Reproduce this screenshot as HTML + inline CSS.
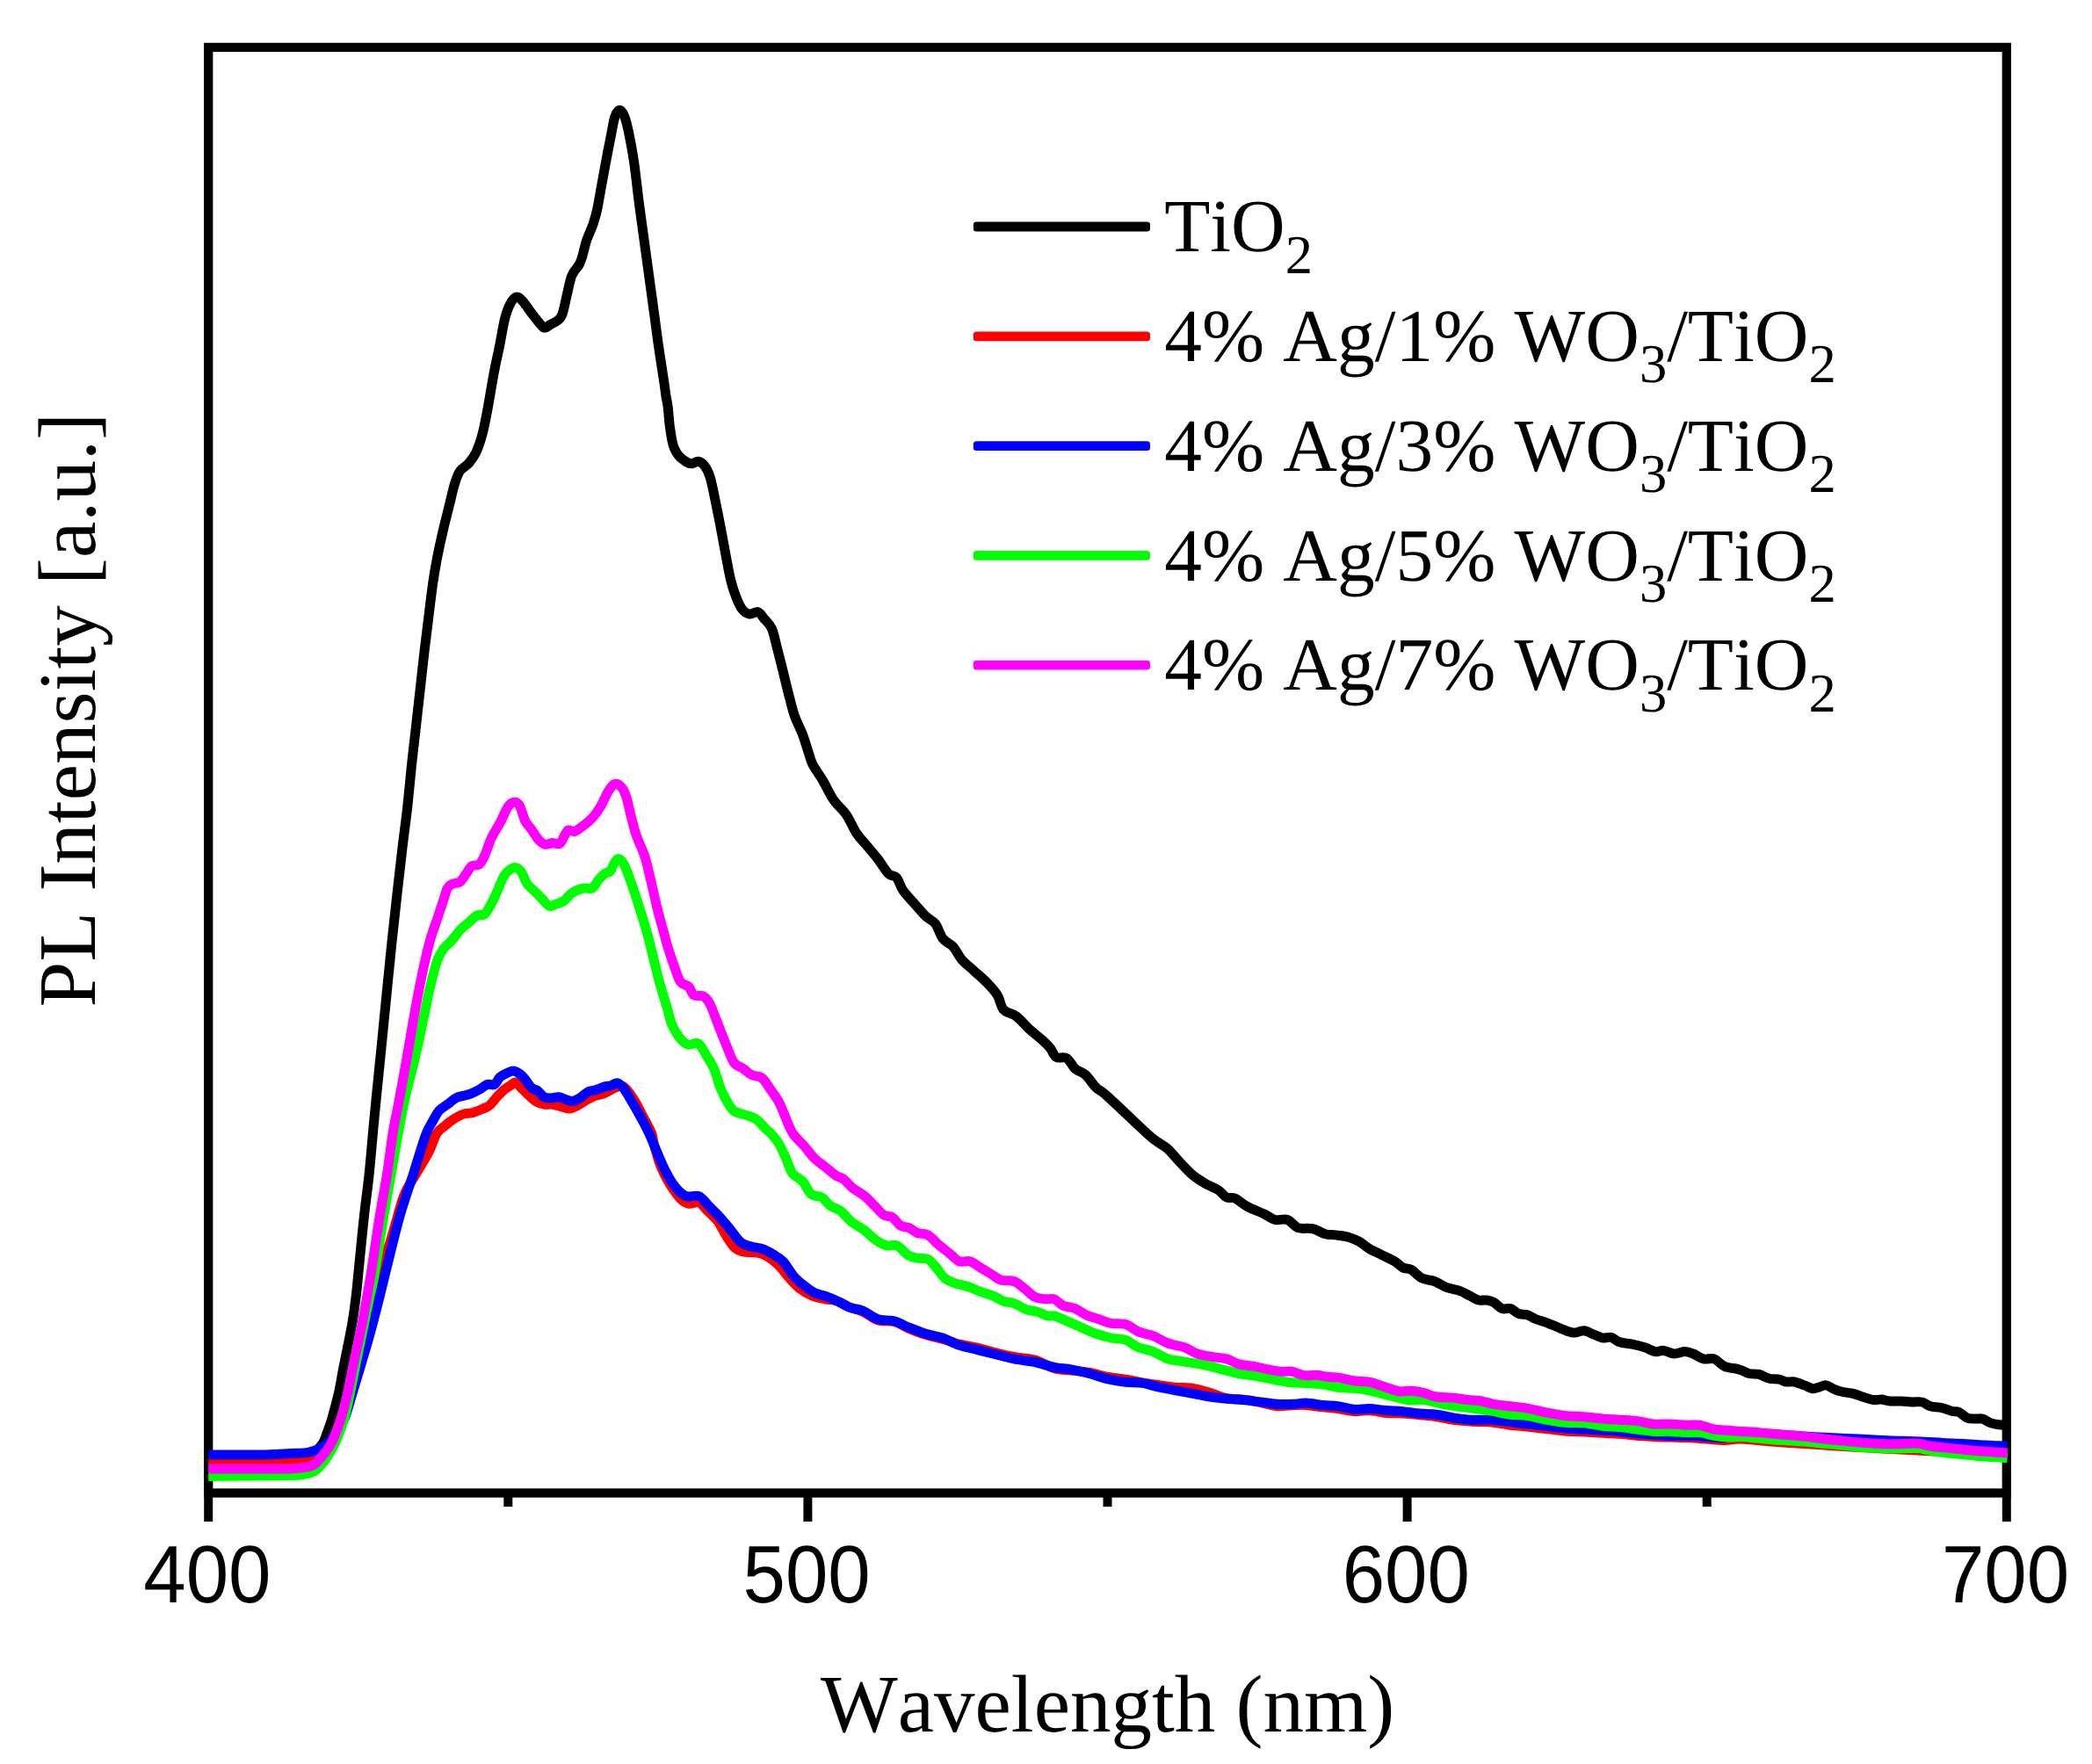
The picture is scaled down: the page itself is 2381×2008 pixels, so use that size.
<!DOCTYPE html>
<html><head><meta charset="utf-8"><title>PL spectra</title>
<style>
html,body{margin:0;padding:0;background:#fff;}
svg{display:block}
text{font-kerning:none;font-feature-settings:"kern" 0,"liga" 0;text-rendering:geometricPrecision}
.ax{font-family:"Liberation Serif",serif;font-size:93px;fill:#000}
.lg{font-family:"Liberation Serif",serif;font-size:85.4px;fill:#000}
.lg .sub{font-size:62.5px}
.tk{font-family:"Liberation Sans",sans-serif;font-size:87px;fill:#000}
</style></head>
<body>
<svg width="2381" height="2008" viewBox="0 0 2381 2008">
<rect width="2381" height="2008" fill="#fff"/>
<g fill="none" stroke="#000" stroke-width="10.3">
<rect x="237.2" y="53.9" width="2046.6" height="1645.6"/>
<g stroke-width="10"><line x1="237.2" y1="1699.5" x2="237.2" y2="1732.1"/><line x1="919.4" y1="1699.5" x2="919.4" y2="1732.1"/><line x1="1601.6" y1="1699.5" x2="1601.6" y2="1732.1"/><line x1="2283.8" y1="1699.5" x2="2283.8" y2="1732.1"/><line x1="578.3" y1="1699.5" x2="578.3" y2="1715.1"/><line x1="1260.5" y1="1699.5" x2="1260.5" y2="1715.1"/><line x1="1942.7" y1="1699.5" x2="1942.7" y2="1715.1"/></g>
</g>
<g fill="none" stroke-width="11" stroke-linejoin="round" stroke-linecap="butt">
<path d="M237.2 1659.3C252.7 1659.4 311.8 1660.3 330.0 1660.2C348.2 1660.1 341.8 1659.9 346.3 1658.8C350.9 1657.8 354.3 1656.0 357.2 1654.1C360.2 1652.2 362.1 1649.5 364.0 1647.3C365.9 1645.0 367.1 1643.9 368.8 1640.5C370.4 1637.1 372.2 1631.4 373.8 1626.9C375.4 1622.3 376.4 1620.1 378.3 1613.3C380.2 1606.5 383.3 1595.1 385.4 1586.1C387.4 1577.0 388.8 1567.9 390.5 1558.8C392.3 1549.8 394.2 1540.7 396.0 1531.6C397.8 1522.6 399.7 1513.5 401.2 1504.4C402.7 1495.4 403.9 1486.3 405.0 1477.2C406.1 1468.1 406.3 1465.3 407.8 1450.0C409.4 1434.7 412.2 1404.3 414.3 1385.6C416.3 1366.9 418.3 1353.7 420.0 1337.8C421.7 1321.9 423.1 1304.2 424.4 1289.9C425.7 1275.7 426.4 1268.6 428.0 1252.4C429.6 1236.2 432.0 1212.6 434.0 1192.7C436.0 1172.7 438.0 1152.8 439.9 1132.9C441.9 1113.0 443.9 1092.3 445.9 1073.2C447.9 1054.0 449.9 1036.1 451.9 1018.2C453.9 1000.3 455.9 982.3 457.9 965.6C459.9 948.9 462.1 933.7 463.8 917.8C465.6 901.9 467.0 885.0 468.6 869.9C470.2 854.9 471.8 841.8 473.4 827.6C475.0 813.4 476.6 798.9 478.2 784.6C479.8 770.3 481.4 755.1 483.0 741.6C484.6 728.0 486.2 716.1 487.7 703.3C489.3 690.6 490.9 676.3 492.5 665.1C494.1 654.0 495.3 646.8 497.3 636.4C499.3 626.1 502.1 613.3 504.5 603.0C506.9 592.6 509.5 583.0 511.6 574.3C513.8 565.5 515.6 556.8 517.6 550.4C519.6 544.0 521.0 539.8 523.6 536.0C526.2 532.3 530.2 531.1 533.2 527.7C536.1 524.3 538.9 521.1 541.5 515.7C544.1 510.3 546.6 503.0 548.7 495.4C550.8 487.8 551.9 482.0 554.2 469.9C556.5 457.8 560.1 435.5 562.5 422.8C564.9 410.2 566.5 404.1 568.5 394.2C570.5 384.2 572.5 371.1 574.5 363.1C576.5 355.1 578.3 350.5 580.4 346.4C582.6 342.2 585.2 338.6 587.6 338.0C590.0 337.4 591.8 339.6 594.8 342.8C597.8 346.0 602.2 352.7 605.5 357.1C608.9 361.5 612.7 366.4 615.1 369.1C617.5 371.7 617.9 373.1 619.9 373.1C621.9 373.1 624.5 370.5 627.1 369.1C629.6 367.6 633.2 366.3 635.4 364.3C637.6 362.3 638.6 361.7 640.2 357.1C641.8 352.5 643.4 343.6 645.0 336.8C646.6 330.0 648.4 321.1 649.8 316.5C651.2 311.9 651.8 311.9 653.3 309.3C654.9 306.7 657.7 303.9 659.3 301.0C660.9 298.0 661.5 296.0 662.9 291.4C664.3 286.8 665.7 279.4 667.7 273.5C669.7 267.5 672.9 261.3 674.9 255.5C676.8 249.8 678.0 246.0 679.6 238.8C681.2 231.6 682.8 221.3 684.4 212.5C686.0 203.8 687.4 195.8 689.2 186.2C691.0 176.7 693.4 164.1 695.2 155.2C697.0 146.2 698.2 137.4 700.0 132.5C701.7 127.5 703.7 125.3 705.4 125.3C707.2 125.3 709.0 128.3 710.7 132.5C712.4 136.6 713.7 141.8 715.5 150.4C717.3 158.9 719.5 170.3 721.5 183.8C723.5 197.4 725.2 214.9 727.4 231.6C729.6 248.4 732.2 266.7 734.6 284.2C737.0 301.8 739.4 319.3 741.8 336.8C744.2 354.3 746.6 372.7 748.9 389.4C751.3 406.1 754.6 427.1 756.1 437.2C757.6 447.3 757.2 445.9 757.8 450.0C758.5 454.1 759.2 456.0 760.0 462.0C760.8 467.9 761.4 478.5 762.4 485.9C763.4 493.2 764.4 500.8 766.0 506.2C767.6 511.5 769.4 514.8 772.0 518.1C774.5 521.4 778.9 524.4 781.5 526.0C784.1 527.6 785.3 527.8 787.5 527.7C789.7 527.6 792.3 524.9 794.7 525.3C797.0 525.7 799.6 527.3 801.8 530.1C804.0 532.9 806.0 536.6 807.8 542.0C809.6 547.4 810.6 553.0 812.6 562.3C814.6 571.7 817.4 585.8 819.8 598.2C822.1 610.5 824.9 626.1 826.9 636.4C828.9 646.8 829.9 653.2 831.7 660.3C833.5 667.5 835.5 673.9 837.7 679.4C839.9 685.0 842.3 690.5 844.8 693.8C847.4 697.1 850.2 698.6 853.2 699.0C856.2 699.5 860.0 695.7 862.8 696.7C865.6 697.6 867.4 701.4 869.9 704.5C872.5 707.6 875.9 709.9 878.3 715.3C880.7 720.7 882.1 728.4 884.3 736.8C886.5 745.2 889.1 755.9 891.5 765.5C893.8 775.0 896.4 785.8 898.6 794.2C900.8 802.5 902.2 808.9 904.6 815.7C907.0 822.5 910.4 828.0 913.0 834.8C915.6 841.6 918.1 850.4 920.1 856.3C922.1 862.2 922.1 864.5 924.9 870.0C927.7 875.5 932.9 882.3 936.9 889.1C940.8 895.9 944.4 904.3 948.8 910.6C953.2 917.0 958.8 921.0 963.2 927.4C967.5 933.7 971.1 942.9 975.1 948.9C979.1 954.8 983.1 958.4 987.1 963.2C991.0 968.0 995.0 972.4 999.0 977.6C1003.0 982.7 1007.4 990.7 1011.0 994.3C1014.5 997.9 1017.7 995.9 1020.5 999.1C1023.3 1002.2 1024.1 1008.2 1027.7 1013.4C1031.3 1018.6 1037.6 1025.2 1042.0 1030.1C1046.4 1035.1 1050.2 1039.7 1054.0 1043.3C1057.8 1046.9 1061.5 1047.5 1064.7 1051.6C1067.9 1055.8 1069.7 1064.0 1073.1 1068.4C1076.5 1072.8 1081.5 1074.0 1085.0 1077.9C1088.6 1081.9 1090.6 1087.7 1094.6 1092.3C1098.6 1096.9 1104.2 1101.0 1108.9 1105.4C1113.7 1109.8 1118.9 1114.0 1123.3 1118.6C1127.7 1123.1 1132.1 1127.7 1135.2 1132.9C1138.4 1138.1 1138.8 1145.7 1142.4 1149.6C1146.0 1153.6 1152.0 1153.2 1156.7 1156.8C1161.5 1160.4 1166.3 1166.8 1171.1 1171.1C1175.9 1175.5 1181.4 1179.5 1185.4 1183.1C1189.4 1186.7 1192.2 1189.3 1195.0 1192.7C1197.8 1196.0 1199.0 1201.4 1202.2 1203.4C1205.3 1205.4 1210.5 1202.4 1214.1 1204.6C1217.7 1206.8 1220.1 1213.4 1223.7 1216.6C1227.3 1219.7 1231.6 1220.1 1235.6 1223.7C1239.6 1227.3 1243.5 1234.1 1247.6 1238.1C1251.6 1242.1 1250.4 1239.0 1260.0 1247.6C1269.6 1256.3 1295.6 1281.3 1305.2 1290.0C1314.7 1298.7 1313.1 1296.6 1317.1 1299.6C1321.1 1302.5 1324.7 1303.9 1329.1 1307.9C1333.4 1311.9 1338.6 1318.5 1343.4 1323.5C1348.2 1328.4 1353.0 1333.8 1357.7 1337.8C1362.5 1341.8 1367.3 1344.6 1372.1 1347.4C1376.9 1350.1 1382.4 1351.9 1386.4 1354.5C1390.4 1357.1 1392.8 1361.3 1396.0 1362.9C1399.2 1364.5 1401.6 1362.3 1405.5 1364.1C1409.5 1365.9 1414.3 1370.7 1419.9 1373.7C1425.5 1376.6 1433.8 1379.5 1439.0 1382.0C1444.2 1384.5 1446.6 1387.4 1451.0 1388.5C1455.3 1389.5 1460.9 1387.0 1465.3 1388.5C1469.7 1390.0 1472.5 1395.8 1477.2 1397.6C1482.0 1399.3 1488.8 1397.6 1494.0 1398.7C1499.2 1399.9 1503.9 1403.5 1508.3 1404.7C1512.7 1405.9 1515.9 1405.3 1520.3 1405.9C1524.6 1406.5 1530.2 1407.1 1534.6 1408.3C1539.0 1409.5 1542.6 1410.9 1546.6 1413.1C1550.5 1415.3 1554.1 1418.9 1558.5 1421.5C1562.9 1424.0 1568.1 1426.2 1572.8 1428.6C1577.6 1431.0 1583.2 1433.4 1587.2 1435.8C1591.2 1438.2 1593.6 1441.4 1596.7 1443.0C1599.9 1444.6 1602.7 1443.4 1606.3 1445.4C1609.9 1447.3 1613.9 1452.7 1618.3 1454.9C1622.6 1457.1 1627.8 1456.7 1632.6 1458.5C1637.4 1460.3 1642.2 1463.9 1646.9 1465.7C1651.7 1467.5 1656.9 1467.7 1661.3 1469.3C1665.7 1470.8 1669.6 1473.4 1673.2 1475.2C1676.8 1477.0 1679.6 1479.2 1682.8 1480.0C1686.0 1480.8 1689.5 1479.6 1692.4 1480.0C1695.2 1480.4 1697.1 1480.8 1700.0 1482.4C1702.9 1484.0 1706.4 1488.4 1709.6 1489.6C1712.7 1490.8 1715.9 1488.6 1719.1 1489.6C1722.3 1490.6 1725.5 1494.3 1728.7 1495.5C1731.9 1496.7 1735.1 1495.7 1738.2 1496.7C1741.4 1497.7 1743.8 1499.9 1747.8 1501.5C1751.8 1503.1 1757.4 1504.5 1762.1 1506.3C1766.9 1508.1 1771.7 1510.5 1776.5 1512.3C1781.3 1514.1 1786.4 1516.7 1790.8 1517.1C1795.2 1517.5 1798.8 1514.3 1802.8 1514.7C1806.8 1515.1 1811.1 1518.1 1814.7 1519.4C1818.3 1520.8 1821.1 1522.6 1824.3 1523.0C1827.5 1523.5 1830.7 1521.5 1833.8 1522.3C1837.0 1523.1 1839.4 1526.5 1843.4 1527.8C1847.4 1529.1 1853.0 1529.2 1857.7 1530.2C1862.5 1531.2 1867.7 1532.4 1872.1 1533.8C1876.5 1535.2 1880.4 1538.0 1884.0 1538.6C1887.6 1539.2 1890.0 1537.0 1893.6 1537.4C1897.2 1537.8 1901.6 1540.8 1905.5 1541.0C1909.5 1541.2 1913.9 1538.6 1917.5 1538.6C1921.1 1538.6 1923.5 1539.6 1927.1 1541.0C1930.6 1542.4 1935.0 1545.9 1939.0 1546.9C1943.0 1547.9 1947.0 1545.5 1951.0 1546.9C1954.9 1548.3 1958.1 1553.3 1962.9 1555.3C1967.7 1557.3 1975.0 1557.5 1979.6 1558.9C1984.2 1560.2 1986.8 1562.6 1990.6 1563.5C1994.3 1564.4 1998.2 1563.5 2002.0 1564.4C2005.9 1565.4 2009.7 1568.3 2013.5 1569.2C2017.3 1570.2 2021.8 1569.5 2025.0 1570.2C2028.2 1570.8 2029.8 1572.6 2032.6 1573.0C2035.5 1573.5 2038.7 1572.4 2042.2 1573.0C2045.7 1573.7 2050.2 1575.6 2053.7 1576.9C2057.2 1578.1 2060.3 1580.4 2063.2 1580.7C2066.1 1581.0 2068.3 1579.4 2070.9 1578.8C2073.4 1578.1 2075.6 1576.4 2078.5 1576.9C2081.4 1577.3 2084.9 1580.4 2088.1 1581.6C2091.3 1582.9 2094.1 1583.7 2097.6 1584.5C2101.1 1585.3 2105.3 1585.5 2109.1 1586.4C2112.9 1587.4 2116.8 1589.1 2120.6 1590.2C2124.4 1591.4 2128.5 1593.0 2132.1 1593.5C2135.6 1594.0 2138.4 1592.9 2141.6 1593.1C2144.8 1593.4 2147.3 1594.7 2151.2 1595.0C2155.0 1595.3 2160.4 1594.9 2164.6 1595.0C2168.7 1595.2 2172.2 1595.8 2176.0 1596.0C2179.9 1596.1 2184.0 1595.2 2187.5 1596.0C2191.0 1596.8 2193.2 1599.6 2197.1 1600.8C2200.9 1601.9 2206.3 1601.7 2210.4 1602.7C2214.6 1603.6 2218.7 1605.7 2221.9 1606.5C2225.1 1607.3 2226.7 1606.2 2229.6 1607.5C2232.4 1608.7 2235.9 1612.9 2239.1 1614.1C2242.3 1615.4 2245.8 1614.9 2248.7 1615.1C2251.6 1615.3 2253.5 1614.3 2256.3 1615.1C2259.2 1615.9 2262.7 1618.8 2265.9 1619.9C2269.1 1621.0 2272.3 1621.3 2275.5 1621.8C2278.6 1622.3 2283.1 1622.6 2284.6 1622.8" stroke="#000"/>
<path d="M237.2 1662.4C248.0 1662.4 286.2 1662.4 301.7 1662.4C317.2 1662.4 322.6 1662.6 330.0 1662.4C337.4 1662.2 341.8 1662.0 346.3 1661.3C350.9 1660.5 353.7 1659.8 357.2 1657.9C360.7 1656.0 364.1 1652.9 367.4 1650.0C370.7 1647.1 373.1 1646.6 376.9 1640.5C380.8 1634.4 387.0 1622.3 390.5 1613.3C394.1 1604.2 395.6 1595.1 398.0 1586.1C400.4 1577.0 402.6 1567.9 404.8 1558.8C407.1 1549.8 409.3 1540.7 411.6 1531.6C414.0 1522.6 416.8 1513.5 419.1 1504.4C421.4 1495.4 423.1 1486.3 425.2 1477.2C427.3 1468.1 428.7 1460.5 431.8 1450.0C434.9 1439.5 440.5 1425.0 443.9 1414.3C447.3 1403.6 449.5 1394.8 452.3 1385.6C455.0 1376.4 456.8 1367.7 460.4 1359.3C464.0 1350.9 469.4 1343.4 474.0 1335.4C478.6 1327.4 484.0 1319.1 487.9 1311.5C491.8 1303.9 494.1 1295.0 497.3 1289.9C500.5 1284.9 503.7 1283.8 506.9 1281.1C510.1 1278.4 512.8 1276.1 516.4 1273.9C520.0 1271.7 524.8 1269.1 528.4 1267.9C532.0 1266.7 534.3 1267.7 537.9 1266.7C541.5 1265.8 546.7 1263.4 549.9 1262.0C553.1 1260.6 554.3 1260.8 557.1 1258.4C559.8 1256.0 563.8 1250.6 566.6 1247.6C569.4 1244.6 571.4 1242.5 573.8 1240.5C576.2 1238.5 578.8 1237.1 581.0 1235.7C583.1 1234.3 584.9 1231.7 586.9 1232.1C588.9 1232.5 590.7 1235.9 592.9 1238.1C595.1 1240.3 597.3 1242.6 600.1 1245.2C602.9 1247.8 606.4 1251.6 609.6 1253.6C612.8 1255.6 616.0 1256.6 619.2 1257.2C622.4 1257.8 625.6 1256.8 628.8 1257.2C631.9 1257.6 635.1 1258.8 638.3 1259.6C641.5 1260.4 644.7 1262.2 647.9 1262.0C651.1 1261.8 654.3 1260.0 657.4 1258.4C660.6 1256.8 663.8 1254.2 667.0 1252.4C670.2 1250.6 673.4 1248.8 676.6 1247.6C679.7 1246.4 683.3 1246.2 686.1 1245.2C688.9 1244.2 690.9 1242.8 693.3 1241.7C695.7 1240.5 698.3 1239.1 700.5 1238.1C702.6 1237.1 704.4 1235.5 706.4 1235.7C708.4 1235.9 709.8 1236.5 712.4 1239.3C715.0 1242.1 718.8 1247.2 722.0 1252.4C725.2 1257.6 728.3 1264.1 731.5 1270.3C734.8 1276.6 739.5 1284.7 741.6 1290.0C743.7 1295.3 742.6 1296.0 744.2 1302.0C745.8 1307.9 748.4 1318.3 751.4 1325.9C754.4 1333.4 758.4 1341.0 762.1 1347.4C765.9 1353.7 770.5 1360.3 774.1 1364.1C777.7 1367.9 780.1 1369.3 783.7 1370.1C787.2 1370.9 792.0 1367.5 795.6 1368.9C799.2 1370.3 801.6 1374.8 805.2 1378.4C808.7 1382.0 813.5 1385.6 817.1 1390.4C820.7 1395.2 823.5 1402.1 826.7 1407.1C829.9 1412.1 833.0 1417.3 836.2 1420.3C839.4 1423.2 841.4 1424.0 845.8 1425.0C850.2 1426.0 857.7 1425.2 862.5 1426.2C867.3 1427.2 870.5 1428.6 874.5 1431.0C878.5 1433.4 882.4 1436.6 886.4 1440.6C890.4 1444.6 894.4 1450.5 898.4 1454.9C902.4 1459.3 905.9 1463.5 910.3 1466.9C914.7 1470.3 919.9 1473.2 924.7 1475.2C929.4 1477.2 934.2 1477.8 939.0 1478.8C943.8 1479.8 948.6 1479.6 953.3 1481.2C958.1 1482.8 962.9 1486.4 967.7 1488.4C972.5 1490.4 976.8 1490.8 982.0 1493.2C987.2 1495.5 992.8 1500.8 998.8 1502.7C1004.7 1504.6 1011.9 1502.8 1017.9 1504.4C1023.9 1506.0 1028.6 1509.8 1034.6 1512.3C1040.6 1514.8 1047.4 1517.5 1053.7 1519.4C1060.1 1521.4 1066.5 1522.4 1072.8 1524.2C1079.2 1526.0 1085.6 1528.6 1092.0 1530.2C1098.3 1531.8 1104.7 1532.3 1111.1 1533.8C1117.5 1535.3 1123.0 1537.3 1130.2 1539.0C1137.4 1540.8 1146.1 1543.0 1154.1 1544.5C1162.1 1546.1 1170.4 1545.9 1178.0 1548.1C1185.7 1550.3 1193.1 1555.7 1200.0 1557.7C1206.9 1559.7 1212.3 1559.3 1219.1 1560.1C1225.9 1560.9 1233.9 1561.3 1240.6 1562.5C1247.4 1563.7 1253.0 1566.0 1259.8 1567.2C1266.5 1568.5 1274.5 1569.0 1281.3 1570.1C1288.0 1571.2 1294.0 1572.8 1300.4 1573.9C1306.8 1575.1 1313.1 1575.9 1319.5 1576.8C1325.9 1577.7 1332.2 1578.6 1338.6 1579.2C1345.0 1579.8 1351.4 1579.4 1357.7 1580.4C1364.1 1581.4 1370.5 1583.3 1376.9 1585.2C1383.2 1587.0 1389.6 1590.3 1396.0 1591.6C1402.4 1592.9 1408.7 1592.3 1415.1 1593.1C1421.5 1593.9 1427.9 1595.1 1434.2 1596.4C1440.6 1597.7 1447.0 1600.2 1453.3 1600.7C1459.7 1601.2 1466.9 1599.7 1472.5 1599.5C1478.0 1599.3 1481.2 1599.1 1486.8 1599.5C1492.4 1599.9 1500.0 1601.2 1505.9 1601.9C1511.9 1602.6 1516.7 1602.8 1522.7 1603.6C1528.6 1604.4 1535.8 1606.4 1541.8 1606.7C1547.8 1607.0 1552.5 1605.2 1558.5 1605.5C1564.5 1605.8 1571.3 1607.8 1577.6 1608.4C1584.0 1609.0 1590.4 1608.7 1596.7 1609.1C1603.1 1609.5 1609.5 1610.1 1615.9 1610.7C1622.2 1611.3 1628.6 1611.7 1635.0 1612.7C1641.4 1613.6 1647.7 1615.4 1654.1 1616.2C1660.5 1617.1 1667.3 1617.5 1673.2 1617.9C1679.2 1618.3 1685.5 1618.4 1690.0 1618.6C1694.4 1618.9 1695.1 1618.8 1700.0 1619.3C1704.9 1619.9 1712.7 1621.4 1719.1 1622.2C1725.5 1623.0 1731.5 1623.4 1738.2 1624.1C1745.0 1624.8 1752.6 1625.7 1759.8 1626.5C1766.9 1627.3 1774.1 1628.4 1781.3 1628.9C1788.4 1629.5 1795.6 1629.5 1802.8 1629.9C1809.9 1630.3 1817.5 1630.9 1824.3 1631.3C1831.1 1631.7 1837.0 1631.8 1843.4 1632.3C1849.8 1632.7 1856.2 1633.7 1862.5 1634.2C1868.9 1634.7 1875.3 1635.0 1881.6 1635.4C1888.0 1635.7 1894.4 1635.9 1900.8 1636.1C1907.1 1636.3 1913.5 1636.3 1919.9 1636.6C1926.3 1636.8 1931.8 1637.3 1939.0 1637.8C1946.2 1638.2 1955.9 1639.4 1962.9 1639.4C1969.9 1639.5 1971.6 1637.7 1981.0 1638.0C1990.4 1638.4 2006.5 1640.3 2019.2 1641.3C2032.0 1642.3 2046.3 1643.1 2057.5 1643.8C2068.6 1644.5 2073.4 1644.9 2086.2 1645.7C2098.9 1646.5 2113.2 1647.5 2134.0 1648.6C2154.7 1649.7 2185.3 1651.1 2210.4 1652.4C2235.6 1653.7 2272.2 1655.6 2284.6 1656.2" stroke="#f00"/>
<path d="M237.2 1655.9C248.0 1655.9 286.2 1656.2 301.7 1655.9C317.2 1655.7 321.9 1654.9 330.0 1654.5C338.1 1654.1 344.7 1654.4 350.4 1653.4C356.1 1652.4 359.9 1650.8 364.0 1648.6C368.1 1646.5 371.5 1644.1 374.9 1640.5C378.3 1636.8 381.5 1631.4 384.4 1626.9C387.4 1622.3 389.8 1620.1 392.6 1613.3C395.4 1606.5 398.3 1595.1 401.0 1586.1C403.8 1577.0 406.5 1567.9 409.2 1558.8C411.9 1549.8 414.7 1540.7 417.3 1531.6C420.0 1522.6 422.4 1513.5 424.8 1504.4C427.2 1495.4 429.5 1486.3 431.8 1477.2C434.0 1468.1 434.6 1465.3 438.4 1450.0C442.3 1434.7 449.4 1404.3 454.7 1385.6C459.9 1366.9 466.2 1349.8 470.0 1337.8C473.7 1325.9 474.8 1321.9 477.4 1313.9C479.9 1305.9 482.7 1296.3 485.3 1290.0C487.8 1283.7 490.1 1280.6 492.5 1276.3C494.9 1272.0 496.9 1267.5 499.7 1264.4C502.5 1261.2 506.1 1259.6 509.3 1257.2C512.4 1254.8 516.0 1251.6 518.8 1250.0C521.6 1248.4 523.2 1248.4 526.0 1247.6C528.8 1246.8 532.4 1246.4 535.5 1245.2C538.7 1244.0 541.9 1242.3 545.1 1240.5C548.3 1238.7 551.7 1235.5 554.7 1234.5C557.7 1233.5 560.6 1235.9 563.0 1234.5C565.4 1233.1 566.6 1228.3 569.0 1226.1C571.4 1223.9 574.8 1222.5 577.4 1221.3C580.0 1220.1 582.2 1218.7 584.5 1218.9C586.9 1219.1 589.5 1220.9 591.7 1222.5C593.9 1224.1 595.5 1225.9 597.7 1228.5C599.9 1231.1 602.5 1235.9 604.9 1238.1C607.2 1240.3 609.6 1239.9 612.0 1241.7C614.4 1243.4 616.8 1247.4 619.2 1248.8C621.6 1250.2 623.6 1250.0 626.4 1250.0C629.2 1250.0 633.1 1248.6 635.9 1248.8C638.7 1249.0 640.5 1250.4 643.1 1251.2C645.7 1252.0 648.7 1253.8 651.5 1253.6C654.3 1253.4 656.8 1251.8 659.8 1250.0C662.8 1248.2 666.2 1244.4 669.4 1242.8C672.6 1241.3 675.8 1241.5 678.9 1240.5C682.1 1239.5 685.7 1237.7 688.5 1236.9C691.3 1236.1 693.3 1236.4 695.7 1235.7C698.1 1235.0 700.5 1232.2 702.8 1232.8C705.2 1233.4 707.2 1235.6 710.0 1239.3C712.8 1242.9 716.4 1249.4 719.6 1254.8C722.8 1260.2 725.9 1265.7 729.1 1271.5C732.3 1277.4 735.6 1283.3 738.7 1290.0C741.8 1296.7 744.7 1304.3 747.8 1311.5C750.9 1318.7 753.8 1326.2 757.4 1333.0C760.9 1339.8 765.3 1347.4 769.3 1352.1C773.3 1356.9 776.9 1360.1 781.3 1361.7C785.6 1363.3 791.2 1359.7 795.6 1361.7C800.0 1363.7 803.6 1369.7 807.6 1373.7C811.5 1377.6 815.5 1381.2 819.5 1385.6C823.5 1390.0 827.5 1395.2 831.5 1399.9C835.4 1404.7 839.4 1411.1 843.4 1414.3C847.4 1417.5 851.4 1417.9 855.4 1419.1C859.3 1420.3 863.3 1420.1 867.3 1421.5C871.3 1422.8 875.3 1425.0 879.3 1427.4C883.2 1429.8 887.2 1431.6 891.2 1435.8C895.2 1440.0 899.2 1447.9 903.2 1452.5C907.1 1457.1 911.1 1460.1 915.1 1463.3C919.1 1466.5 923.1 1469.7 927.1 1471.6C931.0 1473.6 934.6 1473.6 939.0 1475.2C943.4 1476.8 948.6 1479.0 953.3 1481.2C958.1 1483.4 962.9 1486.6 967.7 1488.4C972.5 1490.2 976.8 1489.8 982.0 1492.0C987.2 1494.2 992.8 1499.5 998.8 1501.5C1004.7 1503.5 1011.9 1502.3 1017.9 1503.9C1023.9 1505.5 1028.6 1508.7 1034.6 1511.1C1040.6 1513.5 1047.4 1516.3 1053.7 1518.3C1060.1 1520.2 1066.5 1520.8 1072.8 1523.0C1079.2 1525.2 1085.6 1529.2 1092.0 1531.4C1098.3 1533.6 1104.7 1534.6 1111.1 1536.2C1117.5 1537.8 1123.0 1539.2 1130.2 1541.0C1137.4 1542.7 1146.1 1545.3 1154.1 1546.9C1162.1 1548.5 1170.4 1548.9 1178.0 1550.5C1185.7 1552.1 1193.1 1555.1 1200.0 1556.5C1206.9 1557.9 1212.3 1557.7 1219.1 1558.9C1225.9 1560.1 1233.9 1561.9 1240.6 1563.7C1247.4 1565.5 1253.0 1568.0 1259.8 1569.6C1266.5 1571.2 1274.5 1572.4 1281.3 1573.2C1288.0 1574.0 1294.0 1573.4 1300.4 1574.4C1306.8 1575.4 1313.1 1577.8 1319.5 1579.2C1325.9 1580.6 1332.2 1581.6 1338.6 1582.8C1345.0 1584.0 1351.4 1585.2 1357.7 1586.4C1364.1 1587.6 1370.5 1589.0 1376.9 1590.0C1383.2 1590.9 1389.6 1591.7 1396.0 1592.3C1402.4 1592.9 1408.7 1592.9 1415.1 1593.5C1421.5 1594.1 1427.9 1595.1 1434.2 1595.9C1440.6 1596.7 1447.0 1597.9 1453.3 1598.3C1459.7 1598.7 1466.9 1598.5 1472.5 1598.3C1478.0 1598.1 1481.2 1596.9 1486.8 1597.1C1492.4 1597.3 1500.0 1598.9 1505.9 1599.5C1511.9 1600.1 1516.7 1599.9 1522.7 1600.7C1528.6 1601.5 1535.8 1603.8 1541.8 1604.3C1547.8 1604.8 1552.5 1603.4 1558.5 1603.6C1564.5 1603.8 1571.3 1605.0 1577.6 1605.5C1584.0 1606.0 1590.4 1606.1 1596.7 1606.7C1603.1 1607.3 1609.5 1608.5 1615.9 1609.1C1622.2 1609.7 1628.6 1609.5 1635.0 1610.3C1641.4 1611.1 1647.7 1612.9 1654.1 1613.9C1660.5 1614.8 1667.3 1615.8 1673.2 1616.2C1679.2 1616.6 1685.5 1616.2 1690.0 1616.2C1694.4 1616.2 1695.1 1615.8 1700.0 1616.2C1704.9 1616.6 1712.7 1617.8 1719.1 1618.6C1725.5 1619.4 1731.5 1620.2 1738.2 1621.0C1745.0 1621.8 1752.6 1622.6 1759.8 1623.4C1766.9 1624.2 1774.1 1625.2 1781.3 1625.8C1788.4 1626.4 1795.6 1626.6 1802.8 1627.0C1809.9 1627.4 1817.5 1627.8 1824.3 1628.2C1831.1 1628.6 1837.0 1628.8 1843.4 1629.4C1849.8 1630.0 1856.2 1631.2 1862.5 1631.8C1868.9 1632.4 1875.3 1632.6 1881.6 1633.0C1888.0 1633.4 1894.4 1634.0 1900.8 1634.2C1907.1 1634.4 1913.5 1634.0 1919.9 1634.2C1926.3 1634.4 1931.8 1635.0 1939.0 1635.4C1946.2 1635.8 1955.9 1637.4 1962.9 1636.6C1969.9 1635.7 1971.6 1631.0 1981.0 1630.4C1990.4 1629.8 2006.5 1632.1 2019.2 1632.9C2032.0 1633.7 2047.9 1634.6 2057.5 1635.2C2067.0 1635.8 2067.0 1635.9 2076.6 1636.3C2086.2 1636.8 2102.1 1637.4 2114.8 1638.0C2127.6 1638.7 2143.5 1639.5 2153.1 1640.0C2162.6 1640.4 2165.8 1640.3 2172.2 1640.5C2178.6 1640.8 2185.0 1641.0 2191.3 1641.3C2197.7 1641.6 2204.1 1642.1 2210.4 1642.4C2216.8 1642.8 2223.2 1642.9 2229.6 1643.2C2235.9 1643.5 2242.3 1644.0 2248.7 1644.4C2255.1 1644.7 2261.8 1645.2 2267.8 1645.5C2273.8 1645.8 2281.8 1646.1 2284.6 1646.3" stroke="#00f"/>
<path d="M237.2 1680.5C252.7 1680.4 312.3 1679.9 330.0 1679.5C347.7 1679.2 339.1 1679.3 343.6 1678.6C348.1 1677.8 353.4 1677.2 357.2 1675.2C361.1 1673.1 364.0 1669.4 366.7 1666.3C369.5 1663.3 370.9 1661.1 373.5 1656.8C376.1 1652.5 379.3 1647.7 382.4 1640.5C385.5 1633.2 389.5 1622.3 392.2 1613.3C394.8 1604.2 396.4 1595.1 398.3 1586.1C400.2 1577.0 401.9 1567.9 403.7 1558.8C405.6 1549.8 407.5 1540.7 409.3 1531.6C411.2 1522.6 413.0 1513.5 414.9 1504.4C416.8 1495.4 418.6 1486.3 420.5 1477.2C422.4 1468.1 423.5 1465.3 426.2 1450.0C428.9 1434.7 433.4 1404.3 436.5 1385.6C439.7 1366.9 442.1 1353.7 444.9 1337.8C447.7 1321.9 450.4 1305.0 453.2 1289.9C456.0 1274.9 458.2 1262.6 461.5 1247.6C464.9 1232.6 469.8 1215.4 473.4 1199.8C477.0 1184.3 480.2 1167.6 483.0 1154.4C485.8 1141.3 487.7 1130.9 490.1 1121.0C492.5 1111.0 494.9 1101.4 497.3 1094.7C499.7 1087.9 501.7 1084.3 504.5 1080.3C507.3 1076.3 510.8 1074.3 514.0 1070.8C517.2 1067.2 520.4 1062.2 523.6 1058.8C526.8 1055.4 530.0 1053.2 533.2 1050.4C536.3 1047.7 539.7 1043.7 542.7 1042.1C545.7 1040.5 548.7 1042.5 551.1 1040.9C553.5 1039.3 554.7 1036.7 557.1 1032.5C559.4 1028.3 562.6 1021.8 565.4 1015.8C568.2 1009.8 571.2 1001.1 573.8 996.7C576.4 992.3 578.8 991.0 581.0 989.5C583.1 988.0 584.9 987.2 586.9 987.6C588.9 988.0 590.7 988.8 592.9 991.9C595.1 995.0 597.7 1002.6 600.1 1006.2C602.5 1009.8 604.5 1010.6 607.2 1013.4C610.0 1016.2 613.8 1020.0 616.8 1023.0C619.8 1026.0 622.4 1030.3 625.2 1031.3C628.0 1032.3 630.7 1029.9 633.5 1028.9C636.3 1027.9 639.1 1027.3 641.9 1025.4C644.7 1023.4 647.3 1019.2 650.3 1017.0C653.3 1014.8 657.0 1013.2 659.8 1012.2C662.6 1011.2 664.6 1011.2 667.0 1011.0C669.4 1010.8 671.8 1012.6 674.2 1011.0C676.6 1009.4 678.9 1004.2 681.3 1001.5C683.7 998.7 686.3 995.9 688.5 994.3C690.7 992.7 692.7 993.9 694.5 991.9C696.3 989.9 697.7 984.7 699.3 982.3C700.9 979.9 702.3 977.4 704.0 977.6C705.8 977.8 707.8 979.5 710.0 983.5C712.2 987.5 714.4 993.7 717.2 1001.5C720.0 1009.2 723.6 1020.2 726.7 1030.1C729.9 1040.1 733.5 1051.2 736.3 1061.2C739.1 1071.2 741.1 1080.3 743.5 1089.9C745.9 1099.4 748.3 1109.8 750.7 1118.6C753.0 1127.3 756.3 1137.3 757.8 1142.5C759.4 1147.6 758.8 1145.7 760.0 1149.6C761.2 1153.6 762.6 1161.2 764.8 1166.4C767.0 1171.5 770.2 1176.9 773.1 1180.7C776.1 1184.5 779.1 1187.9 782.7 1189.1C786.3 1190.3 791.3 1186.1 794.7 1187.9C798.0 1189.7 800.0 1195.0 803.0 1199.8C806.0 1204.6 809.8 1210.2 812.6 1216.6C815.4 1222.9 817.0 1231.3 819.8 1238.1C822.6 1244.8 826.6 1252.6 829.4 1257.2C832.2 1261.8 833.4 1263.6 836.6 1265.6C839.8 1267.5 844.5 1267.7 848.5 1269.1C852.5 1270.5 856.5 1271.1 860.5 1273.9C864.5 1276.7 869.6 1283.2 872.4 1285.9C875.2 1288.5 874.9 1287.3 877.2 1289.9C879.6 1292.6 883.6 1297.2 886.5 1302.0C889.4 1306.7 892.0 1313.1 894.6 1318.7C897.1 1324.3 898.6 1331.0 901.8 1335.4C904.9 1339.8 910.1 1341.0 913.7 1345.0C917.3 1349.0 919.7 1356.3 923.3 1359.3C926.9 1362.3 931.6 1360.7 935.2 1362.9C938.8 1365.1 941.2 1369.9 944.8 1372.5C948.4 1375.0 952.7 1375.4 956.7 1378.4C960.7 1381.4 964.3 1386.8 968.7 1390.4C973.1 1394.0 978.2 1396.4 983.0 1399.9C987.8 1403.5 993.0 1408.9 997.4 1411.9C1001.7 1414.9 1005.3 1416.9 1009.3 1417.9C1013.3 1418.9 1017.3 1416.1 1021.3 1417.9C1025.2 1419.7 1029.4 1426.2 1033.2 1428.6C1037.0 1431.0 1040.3 1431.4 1044.2 1432.2C1048.0 1433.0 1052.5 1431.6 1056.1 1433.4C1059.7 1435.2 1062.5 1439.4 1065.7 1443.0C1068.9 1446.5 1071.7 1451.9 1075.2 1454.9C1078.8 1457.9 1082.8 1459.3 1087.2 1460.9C1091.6 1462.5 1096.7 1462.9 1101.5 1464.5C1106.3 1466.1 1111.1 1468.7 1115.9 1470.4C1120.7 1472.2 1125.8 1473.4 1130.2 1475.2C1134.6 1477.0 1138.2 1479.8 1142.2 1481.2C1146.1 1482.6 1149.7 1482.0 1154.1 1483.6C1158.5 1485.2 1164.1 1489.2 1168.5 1490.8C1172.8 1492.4 1176.4 1492.0 1180.4 1493.2C1184.4 1494.3 1189.1 1497.1 1192.4 1497.9C1195.6 1498.7 1196.3 1496.9 1200.0 1497.9C1203.7 1498.9 1209.2 1501.7 1214.3 1503.9C1219.5 1506.1 1225.5 1508.7 1231.1 1511.1C1236.6 1513.5 1242.2 1516.3 1247.8 1518.3C1253.4 1520.2 1259.0 1521.8 1264.5 1523.0C1270.1 1524.2 1276.1 1523.6 1281.3 1525.4C1286.4 1527.2 1290.4 1531.6 1295.6 1533.8C1300.8 1536.0 1306.8 1536.4 1312.3 1538.6C1317.9 1540.8 1323.9 1545.1 1329.1 1546.9C1334.2 1548.7 1338.6 1548.5 1343.4 1549.3C1348.2 1550.1 1353.0 1550.9 1357.7 1551.7C1362.5 1552.5 1366.5 1552.9 1372.1 1554.1C1377.7 1555.3 1384.8 1557.3 1391.2 1558.9C1397.6 1560.5 1404.3 1562.5 1410.3 1563.7C1416.3 1564.9 1421.1 1565.1 1427.1 1566.1C1433.0 1567.0 1439.8 1568.4 1446.2 1569.6C1452.5 1570.8 1458.9 1572.4 1465.3 1573.2C1471.7 1574.0 1478.0 1574.0 1484.4 1574.4C1490.8 1574.8 1497.2 1574.8 1503.5 1575.6C1509.9 1576.4 1516.3 1578.4 1522.7 1579.2C1529.0 1580.0 1535.8 1579.8 1541.8 1580.4C1547.8 1581.0 1552.5 1581.6 1558.5 1582.8C1564.5 1584.0 1570.5 1585.8 1577.6 1587.6C1584.8 1589.4 1594.4 1592.5 1601.5 1593.5C1608.7 1594.5 1613.9 1592.7 1620.7 1593.5C1627.4 1594.3 1634.6 1596.9 1642.2 1598.3C1649.7 1599.7 1658.9 1600.9 1666.1 1601.9C1673.2 1602.9 1679.5 1603.5 1685.2 1604.3C1690.8 1605.1 1694.3 1605.7 1700.0 1606.7C1705.7 1607.7 1712.7 1609.5 1719.1 1610.3C1725.5 1611.1 1731.5 1610.5 1738.2 1611.5C1745.0 1612.5 1752.6 1614.9 1759.8 1616.2C1766.9 1617.6 1774.1 1618.8 1781.3 1619.3C1788.4 1619.9 1795.6 1619.2 1802.8 1619.8C1809.9 1620.5 1817.5 1622.6 1824.3 1623.4C1831.1 1624.2 1837.0 1624.0 1843.4 1624.6C1849.8 1625.2 1856.2 1626.2 1862.5 1627.0C1868.9 1627.8 1875.3 1629.0 1881.6 1629.4C1888.0 1629.8 1894.4 1629.2 1900.8 1629.4C1907.1 1629.6 1914.3 1630.4 1919.9 1630.6C1925.5 1630.8 1929.0 1630.0 1934.2 1630.6C1939.4 1631.2 1945.4 1633.3 1951.0 1634.2C1956.5 1635.1 1962.7 1635.8 1967.7 1636.1C1972.7 1636.3 1975.6 1635.4 1981.0 1635.6C1986.4 1635.7 1993.7 1636.5 2000.1 1637.1C2006.5 1637.7 2012.9 1638.5 2019.2 1639.0C2025.6 1639.5 2032.0 1639.6 2038.4 1640.0C2044.7 1640.3 2051.1 1640.8 2057.5 1641.3C2063.9 1641.8 2070.2 1642.6 2076.6 1643.2C2083.0 1643.8 2089.3 1644.5 2095.7 1645.1C2102.1 1645.8 2108.5 1646.5 2114.8 1647.0C2121.2 1647.5 2127.6 1647.9 2134.0 1648.2C2140.3 1648.5 2146.7 1648.9 2153.1 1648.9C2159.5 1649.0 2167.1 1648.6 2172.2 1648.6C2177.3 1648.5 2179.9 1648.2 2183.7 1648.6C2187.5 1648.9 2190.7 1650.1 2195.1 1650.9C2199.6 1651.7 2204.7 1652.6 2210.4 1653.3C2216.2 1654.1 2223.2 1654.6 2229.6 1655.3C2235.9 1655.9 2242.3 1656.6 2248.7 1657.2C2255.1 1657.7 2261.8 1658.1 2267.8 1658.5C2273.8 1658.9 2281.8 1659.5 2284.6 1659.7" stroke="#0f0"/>
<path d="M237.2 1671.9C251.9 1671.9 310.1 1672.0 325.6 1671.9C341.1 1671.9 327.0 1672.0 330.0 1671.8C333.0 1671.6 339.1 1671.4 343.6 1670.7C348.1 1670.0 352.9 1670.2 357.2 1667.4C361.5 1664.6 365.9 1658.6 369.5 1654.1C373.0 1649.6 375.1 1647.3 378.3 1640.5C381.5 1633.7 385.6 1622.3 388.5 1613.3C391.4 1604.2 393.5 1595.1 395.6 1586.1C397.7 1577.0 399.1 1567.9 401.0 1558.8C402.9 1549.8 404.9 1540.7 406.9 1531.6C408.8 1522.6 410.8 1513.5 412.6 1504.4C414.4 1495.4 415.9 1486.3 417.5 1477.2C419.1 1468.1 419.8 1465.3 422.2 1450.0C424.7 1434.7 428.9 1404.3 432.0 1385.6C435.0 1366.9 437.8 1353.7 440.3 1337.8C442.9 1321.9 444.8 1304.2 447.1 1289.9C449.4 1275.7 451.5 1267.4 454.3 1252.4C457.1 1237.4 460.7 1217.8 463.8 1199.8C467.0 1181.9 470.2 1162.0 473.4 1144.9C476.6 1127.7 480.2 1109.8 483.0 1097.1C485.8 1084.3 487.7 1076.7 490.1 1068.4C492.5 1060.0 494.9 1054.0 497.3 1046.9C499.7 1039.7 502.5 1031.3 504.5 1025.4C506.5 1019.4 507.5 1014.2 509.3 1011.0C511.0 1007.8 512.8 1007.4 515.2 1006.2C517.6 1005.0 521.0 1005.8 523.6 1003.8C526.2 1001.9 528.6 997.3 530.8 994.3C533.0 991.3 534.3 987.6 536.7 985.9C539.1 984.2 542.7 986.0 545.1 984.2C547.5 982.5 548.7 980.3 551.1 975.2C553.5 970.1 556.5 960.0 559.4 953.7C562.4 947.3 565.8 942.9 569.0 936.9C572.2 930.9 575.7 921.8 578.6 917.8C581.4 913.8 584.0 913.0 586.2 913.0C588.4 913.0 589.8 914.2 591.7 917.8C593.6 921.4 595.5 930.1 597.7 934.5C599.9 938.9 602.3 940.5 604.9 944.1C607.4 947.7 610.6 953.2 613.2 956.0C615.8 958.9 617.8 960.7 620.4 961.3C623.0 961.9 626.0 959.8 628.8 959.6C631.5 959.5 634.9 961.5 637.1 960.3C639.3 959.1 640.3 955.0 641.9 952.5C643.5 949.9 644.7 945.8 646.7 944.8C648.7 943.8 650.9 947.4 653.9 946.5C656.8 945.6 661.2 941.9 664.6 939.3C668.0 936.7 671.0 934.5 674.2 930.9C677.4 927.4 680.7 922.8 683.7 917.8C686.7 912.8 689.5 905.3 692.1 901.1C694.7 896.9 696.9 893.7 699.3 892.7C701.7 891.7 704.2 892.9 706.4 895.1C708.6 897.3 710.4 900.1 712.4 905.9C714.4 911.6 716.4 922.2 718.4 929.8C720.4 937.3 721.8 943.7 724.4 951.3C726.9 958.8 731.1 966.4 733.9 975.2C736.7 983.9 738.7 993.9 741.1 1003.8C743.5 1013.8 745.9 1025.4 748.3 1034.9C750.7 1044.5 753.5 1054.0 755.4 1061.2C757.4 1068.4 758.0 1071.6 760.0 1077.9C762.0 1084.3 764.8 1092.9 767.2 1099.4C769.6 1106.0 771.6 1113.4 774.3 1117.4C777.1 1121.4 781.3 1120.8 783.9 1123.3C786.5 1125.9 787.1 1131.1 789.9 1132.9C792.7 1134.7 797.6 1132.5 800.6 1134.1C803.6 1135.7 805.0 1137.1 807.8 1142.5C810.6 1147.8 814.2 1158.4 817.4 1166.4C820.5 1174.3 823.9 1183.1 826.9 1190.3C829.9 1197.4 832.1 1205.0 835.3 1209.4C838.5 1213.8 842.7 1214.2 846.0 1216.6C849.4 1218.9 852.0 1221.9 855.6 1223.7C859.2 1225.5 864.0 1224.5 867.6 1227.3C871.1 1230.1 873.9 1235.9 877.1 1240.5C880.3 1245.0 883.9 1249.6 886.7 1254.8C889.5 1260.0 891.3 1265.7 893.8 1271.5C896.4 1277.4 898.7 1284.5 902.2 1289.9C905.8 1295.4 911.0 1299.5 915.1 1304.3C919.2 1309.1 923.1 1314.7 927.1 1318.7C931.0 1322.7 935.0 1325.1 939.0 1328.2C943.0 1331.4 947.4 1335.4 951.0 1337.8C954.5 1340.2 957.3 1340.2 960.5 1342.6C963.7 1345.0 966.1 1349.0 970.1 1352.1C974.1 1355.3 980.0 1358.1 984.4 1361.7C988.8 1365.3 992.8 1370.1 996.4 1373.7C1000.0 1377.2 1002.7 1381.2 1005.9 1383.2C1009.1 1385.2 1012.3 1383.6 1015.5 1385.6C1018.7 1387.6 1021.9 1393.2 1025.0 1395.2C1028.2 1397.2 1031.4 1396.2 1034.6 1397.6C1037.8 1398.9 1040.6 1402.1 1044.2 1403.5C1047.8 1404.9 1052.1 1403.7 1056.1 1405.9C1060.1 1408.1 1064.1 1413.3 1068.1 1416.7C1072.1 1420.1 1076.0 1423.0 1080.0 1426.2C1084.0 1429.4 1088.0 1434.2 1092.0 1435.8C1096.0 1437.4 1099.9 1434.6 1103.9 1435.8C1107.9 1437.0 1111.9 1440.6 1115.9 1443.0C1119.9 1445.4 1123.8 1447.7 1127.8 1450.1C1131.8 1452.5 1135.4 1455.9 1139.8 1457.3C1144.2 1458.7 1149.7 1456.9 1154.1 1458.5C1158.5 1460.1 1162.1 1463.9 1166.1 1466.9C1170.0 1469.9 1174.0 1474.4 1178.0 1476.4C1182.0 1478.4 1186.3 1478.4 1190.0 1478.8C1193.6 1479.2 1196.7 1477.6 1200.0 1478.8C1203.3 1480.0 1205.6 1484.2 1209.6 1486.0C1213.5 1487.8 1219.5 1487.8 1223.9 1489.6C1228.3 1491.4 1231.5 1494.7 1235.9 1496.7C1240.2 1498.7 1245.4 1499.9 1250.2 1501.5C1255.0 1503.1 1259.4 1505.3 1264.5 1506.3C1269.7 1507.3 1276.1 1505.9 1281.3 1507.5C1286.4 1509.1 1290.4 1513.7 1295.6 1515.9C1300.8 1518.1 1306.8 1518.4 1312.3 1520.6C1317.9 1522.8 1323.1 1526.8 1329.1 1529.0C1335.0 1531.2 1342.6 1531.8 1348.2 1533.8C1353.8 1535.8 1357.3 1539.2 1362.5 1541.0C1367.7 1542.7 1373.7 1543.5 1379.3 1544.5C1384.8 1545.5 1390.8 1545.5 1396.0 1546.9C1401.2 1548.3 1405.1 1551.5 1410.3 1552.9C1415.5 1554.3 1421.5 1554.3 1427.1 1555.3C1432.6 1556.3 1438.6 1557.9 1443.8 1558.9C1449.0 1559.9 1453.7 1560.9 1458.1 1561.3C1462.5 1561.7 1465.7 1560.6 1470.1 1561.3C1474.5 1562.0 1479.6 1564.9 1484.4 1565.6C1489.2 1566.3 1494.4 1565.1 1498.8 1565.3C1503.1 1565.6 1506.3 1566.7 1510.7 1567.2C1515.1 1567.8 1519.9 1567.6 1525.0 1568.4C1530.2 1569.2 1536.2 1571.2 1541.8 1572.0C1547.4 1572.8 1552.9 1572.1 1558.5 1573.2C1564.1 1574.3 1569.7 1576.7 1575.2 1578.5C1580.8 1580.2 1586.8 1582.9 1592.0 1583.7C1597.1 1584.5 1601.5 1582.9 1606.3 1583.3C1611.1 1583.6 1615.9 1584.5 1620.7 1585.7C1625.4 1586.8 1629.4 1589.0 1635.0 1590.0C1640.6 1590.9 1648.1 1590.5 1654.1 1591.1C1660.1 1591.7 1665.7 1592.9 1670.8 1593.5C1676.0 1594.1 1680.3 1593.9 1685.2 1594.7C1690.0 1595.5 1694.3 1597.3 1700.0 1598.3C1705.7 1599.3 1712.7 1599.9 1719.1 1600.7C1725.5 1601.5 1731.5 1601.9 1738.2 1603.1C1745.0 1604.3 1752.6 1606.5 1759.8 1607.9C1766.9 1609.3 1774.1 1610.7 1781.3 1611.5C1788.4 1612.3 1795.6 1612.1 1802.8 1612.7C1809.9 1613.3 1817.5 1614.5 1824.3 1615.0C1831.1 1615.6 1837.0 1615.8 1843.4 1616.2C1849.8 1616.6 1856.2 1616.6 1862.5 1617.4C1868.9 1618.2 1875.3 1620.4 1881.6 1621.0C1888.0 1621.6 1894.4 1620.8 1900.8 1621.0C1907.1 1621.2 1914.3 1622.0 1919.9 1622.2C1925.5 1622.4 1929.0 1621.4 1934.2 1622.2C1939.4 1623.0 1945.4 1626.0 1951.0 1627.0C1956.5 1628.0 1962.7 1627.8 1967.7 1628.2C1972.7 1628.6 1975.6 1629.1 1981.0 1629.4C1986.4 1629.8 1993.7 1629.9 2000.1 1630.4C2006.5 1630.9 2012.9 1631.8 2019.2 1632.3C2025.6 1632.9 2032.0 1633.1 2038.4 1633.7C2044.7 1634.2 2051.1 1634.8 2057.5 1635.6C2063.9 1636.3 2070.2 1637.3 2076.6 1638.0C2083.0 1638.8 2089.3 1639.3 2095.7 1640.0C2102.1 1640.6 2108.5 1641.3 2114.8 1641.9C2121.2 1642.4 2127.6 1642.9 2134.0 1643.2C2140.3 1643.5 2146.7 1643.8 2153.1 1643.8C2159.5 1643.8 2167.1 1643.3 2172.2 1643.2C2177.3 1643.1 2179.9 1642.8 2183.7 1643.2C2187.5 1643.6 2190.7 1645.0 2195.1 1645.7C2199.6 1646.4 2204.7 1647.0 2210.4 1647.6C2216.2 1648.2 2223.2 1648.9 2229.6 1649.5C2235.9 1650.2 2242.3 1650.9 2248.7 1651.4C2255.1 1652.0 2261.8 1652.4 2267.8 1652.8C2273.8 1653.2 2281.8 1653.7 2284.6 1653.9" stroke="#f0f"/>
</g>
<g>
<rect x="1107.8" y="252.6" width="201.2" height="10.8" rx="3.5" fill="#000"/>
<rect x="1107.8" y="377.4" width="201.2" height="10.8" rx="3.5" fill="#f00"/>
<rect x="1107.8" y="502.2" width="201.2" height="10.8" rx="3.5" fill="#00f"/>
<rect x="1107.8" y="627.0" width="201.2" height="10.8" rx="3.5" fill="#0f0"/>
<rect x="1107.8" y="751.8" width="201.2" height="10.8" rx="3.5" fill="#f0f"/>
</g>
<g class="lg">
<text x="1325.2" y="286.2">TiO<tspan class="sub" dy="24.3">2</tspan></text>
<text x="1325.2" y="411.0">4% Ag/1% WO<tspan class="sub" dy="24.3">3</tspan><tspan dy="-24.3">/TiO</tspan><tspan class="sub" dy="24.3">2</tspan></text>
<text x="1325.2" y="535.8">4% Ag/3% WO<tspan class="sub" dy="24.3">3</tspan><tspan dy="-24.3">/TiO</tspan><tspan class="sub" dy="24.3">2</tspan></text>
<text x="1325.2" y="660.6">4% Ag/5% WO<tspan class="sub" dy="24.3">3</tspan><tspan dy="-24.3">/TiO</tspan><tspan class="sub" dy="24.3">2</tspan></text>
<text x="1325.2" y="785.4">4% Ag/7% WO<tspan class="sub" dy="24.3">3</tspan><tspan dy="-24.3">/TiO</tspan><tspan class="sub" dy="24.3">2</tspan></text>
</g>
<g class="tk"><text transform="translate(235.9,1824) scale(1,1.066)" text-anchor="middle">400</text><text transform="translate(918.1,1824) scale(1,1.066)" text-anchor="middle">500</text><text transform="translate(1600.3,1824) scale(1,1.066)" text-anchor="middle">600</text><text transform="translate(2282.5,1824) scale(1,1.066)" text-anchor="middle">700</text></g>
<text class="ax" x="934" y="1970.7">Wavelength (nm)</text>
<text class="ax" transform="translate(108.3,1146.4) rotate(-90)">PL Intensity [a.u.]</text>
</svg>
</body></html>
